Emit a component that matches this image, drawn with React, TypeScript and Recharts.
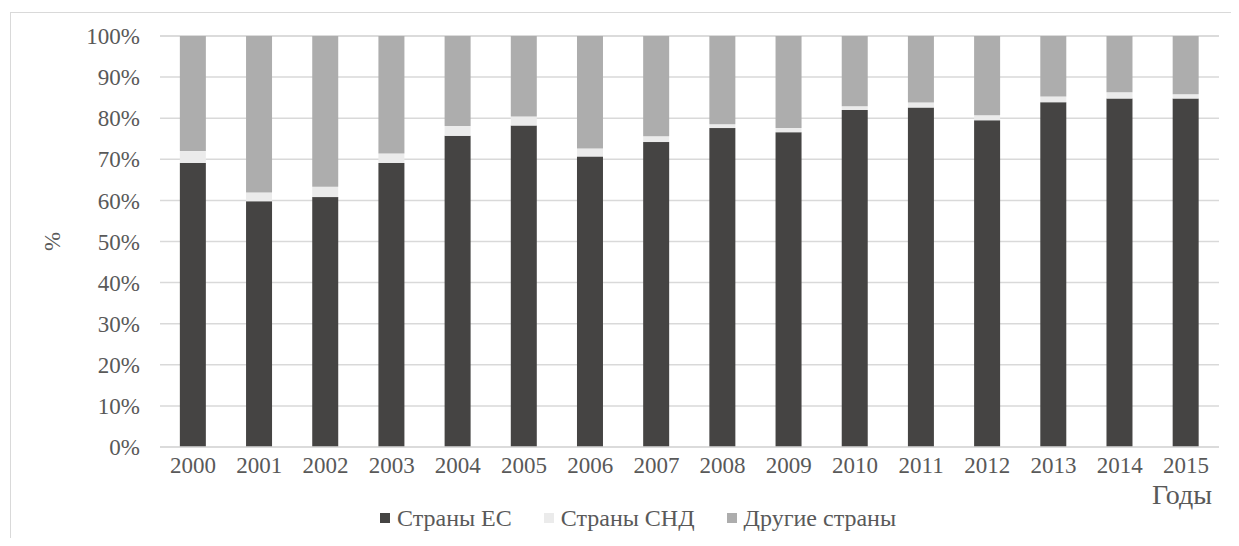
import { Bar, BarChart, CartesianGrid, Legend, XAxis, YAxis } from "recharts";

const years = ["2000", "2001", "2002", "2003", "2004", "2005", "2006", "2007", "2008", "2009", "2010", "2011", "2012", "2013", "2014", "2015"];
const euShare = [69.1, 59.8, 60.8, 69.1, 75.7, 78.2, 70.7, 74.2, 77.6, 76.6, 82.0, 82.6, 79.5, 83.9, 84.8, 84.8];
const cisShare = [2.9, 2.1, 2.5, 2.3, 2.4, 2.2, 1.9, 1.4, 0.9, 1.0, 0.9, 1.2, 1.2, 1.4, 1.5, 1.0];
const otherShare = [28.0, 38.1, 36.7, 28.6, 21.9, 19.6, 27.4, 24.4, 21.5, 22.4, 17.1, 16.2, 19.3, 14.7, 13.7, 14.2];
const yTicks = [0, 10, 20, 30, 40, 50, 60, 70, 80, 90, 100];

const series = [
	{ key: "eu", name: "Страны ЕС", color: "#454443" },
	{ key: "cis", name: "Страны СНД", color: "#ebebeb" },
	{ key: "other", name: "Другие страны", color: "#adadad" },
];

const data = years.map((year, i) => ({
	year,
	eu: euShare[i],
	cis: cisShare[i],
	other: otherShare[i],
}));

const font = "'Liberation Serif', 'Times New Roman', serif";
const textColor = "#595959";

const LegendContent = () => (
	<div style={{ display: "flex", fontFamily: font, fontSize: 24, color: textColor, height: 26 }}>
		{series.map((s) => (
			<div key={s.key} style={{ display: "flex", alignItems: "center", marginRight: 32 }}>
				<span style={{ width: 10, height: 10, background: s.color, marginRight: 7, display: "inline-block" }} />
				<span>{s.name}</span>
			</div>
		))}
	</div>
);

const YearsLabel = (props: any) => {
	const vb = props.viewBox;
	return (
		<text
			x={vb.x + vb.width - 7}
			y={vb.y + 57}
			textAnchor="end"
			fontFamily={font}
			fontSize={28}
			fill={textColor}
		>
			Годы
		</text>
	);
};

export default function App() {
	return (
		<div style={{ position: "relative", width: 1239, height: 546, margin: -8, background: "#fff", overflow: "hidden" }}>
			<div
				style={{
					position: "absolute",
					left: 10,
					top: 12,
					right: -10,
					bottom: -10,
					borderTop: "1.5px solid #d9d9d9",
					borderLeft: "1.5px solid #d9d9d9",
				}}
			/>
			<BarChart
				width={1239}
				height={546}
				data={data}
				margin={{ top: 36, right: 20, left: 0, bottom: 43 }}
				barCategoryGap="30%"
				style={{ position: "absolute", left: 0, top: 0 }}
			>
				<CartesianGrid vertical={false} stroke="#d9d9d9" strokeWidth={1.5} />
				<XAxis
					dataKey="year"
					height={30}
					tickLine={false}
					tickSize={0}
					tickMargin={10}
					axisLine={{ stroke: "#d9d9d9", strokeWidth: 1.5 }}
					tick={{ fontFamily: font, fontSize: 23, fill: textColor }}
					interval={0}
					label={<YearsLabel />}
				/>
				<YAxis
					width={160}
					domain={[0, 100]}
					ticks={yTicks}
					tickFormatter={(v) => `${v}%`}
					tickLine={false}
					tickSize={0}
					tickMargin={20}
					axisLine={false}
					tick={{ fontFamily: font, fontSize: 23, fill: textColor }}
					label={{
						value: "%",
						angle: -90,
						position: "insideLeft",
						offset: 52,
						style: { fontFamily: font, fontSize: 23, fill: textColor, textAnchor: "middle" },
					}}
				/>
				<Legend
					content={<LegendContent />}
					wrapperStyle={{ left: 380, top: 505, width: 700 }}
				/>
				{series.map((s) => (
					<Bar
						key={s.key}
						dataKey={s.key}
						name={s.name}
						stackId="a"
						fill={s.color}
						isAnimationActive={false}
					/>
				))}
			</BarChart>
		</div>
	);
}
